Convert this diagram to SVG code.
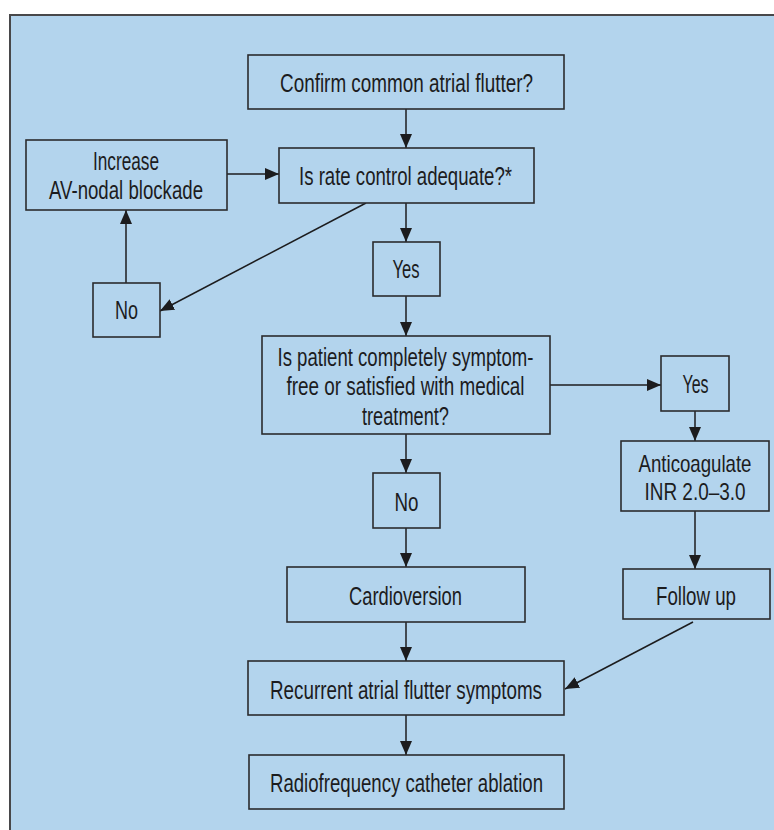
<svg xmlns="http://www.w3.org/2000/svg" width="774" height="830" viewBox="0 0 774 830">
  <defs>
    <marker id="arr" markerUnits="userSpaceOnUse" markerWidth="14" markerHeight="12" refX="14" refY="6" orient="auto">
      <path d="M0,0 L14,6 L0,12 Z" fill="#1c1c1e"/>
    </marker>
    <style>
      .box { fill: #b3d4ed; stroke: #2b2b2d; stroke-width: 1.6; }
      .t { font-family: "Liberation Sans Narrow", "Liberation Sans", Arial, sans-serif; font-size: 25px; fill: #1c1c1e; text-anchor: middle; }
      .s { font-size: 24px; }
      .c { stroke: #1c1c1e; stroke-width: 1.5; fill: none; marker-end: url(#arr); }
    </style>
  </defs>
  <rect x="0" y="0" width="774" height="830" fill="#ffffff"/>
  <rect x="10" y="15" width="764" height="815" fill="#b3d4ed"/>
  <path d="M10,830 V15 H774" fill="none" stroke="#48484a" stroke-width="2"/>

  <g id="connectors">
    <line class="c" x1="406" y1="109" x2="406" y2="148"/>
    <line class="c" x1="227" y1="174" x2="279" y2="174"/>
    <line class="c" x1="126" y1="283" x2="126" y2="210"/>
    <line class="c" x1="366" y1="203" x2="160" y2="311"/>
    <line class="c" x1="406" y1="203" x2="406" y2="242"/>
    <line class="c" x1="406" y1="296" x2="406" y2="336"/>
    <line class="c" x1="550" y1="385" x2="661" y2="385"/>
    <line class="c" x1="695" y1="411" x2="695" y2="441"/>
    <line class="c" x1="695" y1="511" x2="695" y2="569"/>
    <line class="c" x1="406" y1="434" x2="406" y2="473"/>
    <line class="c" x1="406" y1="528" x2="406" y2="567"/>
    <line class="c" x1="406" y1="622" x2="406" y2="661"/>
    <line class="c" x1="693" y1="622" x2="565" y2="689"/>
    <line class="c" x1="406" y1="715" x2="406" y2="755"/>
  </g>

  <g id="confirm">
    <rect class="box" x="248" y="55" width="316" height="54"/>
    <text class="t" x="406.5" y="92" textLength="253" lengthAdjust="spacingAndGlyphs">Confirm common atrial flutter?</text>
  </g>
  <g id="rate">
    <rect class="box" x="279" y="148" width="255" height="55"/>
    <text class="t" x="405.5" y="185" textLength="213" lengthAdjust="spacingAndGlyphs">Is rate control adequate?*</text>
  </g>
  <g id="increase">
    <rect class="box" x="26" y="140" width="201" height="70"/>
    <text class="t" x="126" y="170" textLength="66" lengthAdjust="spacingAndGlyphs">Increase</text>
    <text class="t" x="126" y="199" textLength="154" lengthAdjust="spacingAndGlyphs">AV-nodal blockade</text>
  </g>
  <g id="no1">
    <rect class="box" x="93" y="283" width="67" height="54"/>
    <text class="t" x="126.5" y="319" textLength="23" lengthAdjust="spacingAndGlyphs">No</text>
  </g>
  <g id="yes1">
    <rect class="box" x="373" y="242" width="67" height="54"/>
    <text class="t" x="406" y="278" textLength="27" lengthAdjust="spacingAndGlyphs">Yes</text>
  </g>
  <g id="patient">
    <rect class="box" x="262" y="336" width="288" height="98"/>
    <text class="t" x="405.5" y="366" textLength="256" lengthAdjust="spacingAndGlyphs">Is patient completely symptom-</text>
    <text class="t" x="405.5" y="395" textLength="238" lengthAdjust="spacingAndGlyphs">free or satisfied with medical</text>
    <text class="t" x="405.5" y="425" textLength="87" lengthAdjust="spacingAndGlyphs">treatment?</text>
  </g>
  <g id="yes2">
    <rect class="box" x="661" y="356" width="68" height="55"/>
    <text class="t" x="695.5" y="393" textLength="26" lengthAdjust="spacingAndGlyphs">Yes</text>
  </g>
  <g id="anticoagulate">
    <rect class="box" x="621" y="441" width="148" height="70"/>
    <text class="t s" x="695" y="472" textLength="113" lengthAdjust="spacingAndGlyphs">Anticoagulate</text>
    <text class="t s" x="695" y="500" textLength="101" lengthAdjust="spacingAndGlyphs">INR 2.0–3.0</text>
  </g>
  <g id="followup">
    <rect class="box" x="623" y="569" width="147" height="50"/>
    <text class="t" x="696" y="605" textLength="80" lengthAdjust="spacingAndGlyphs">Follow up</text>
  </g>
  <g id="no2">
    <rect class="box" x="373" y="473" width="67" height="55"/>
    <text class="t" x="406.5" y="511" textLength="24" lengthAdjust="spacingAndGlyphs">No</text>
  </g>
  <g id="cardioversion">
    <rect class="box" x="287" y="567" width="238" height="55"/>
    <text class="t" x="405.5" y="605" textLength="113" lengthAdjust="spacingAndGlyphs">Cardioversion</text>
  </g>
  <g id="recurrent">
    <rect class="box" x="248" y="661" width="316" height="54"/>
    <text class="t" x="406" y="699" textLength="272" lengthAdjust="spacingAndGlyphs">Recurrent atrial flutter symptoms</text>
  </g>
  <g id="ablation">
    <rect class="box" x="249" y="755" width="315" height="54"/>
    <text class="t" x="406.5" y="792" textLength="273" lengthAdjust="spacingAndGlyphs">Radiofrequency catheter ablation</text>
  </g>
</svg>
